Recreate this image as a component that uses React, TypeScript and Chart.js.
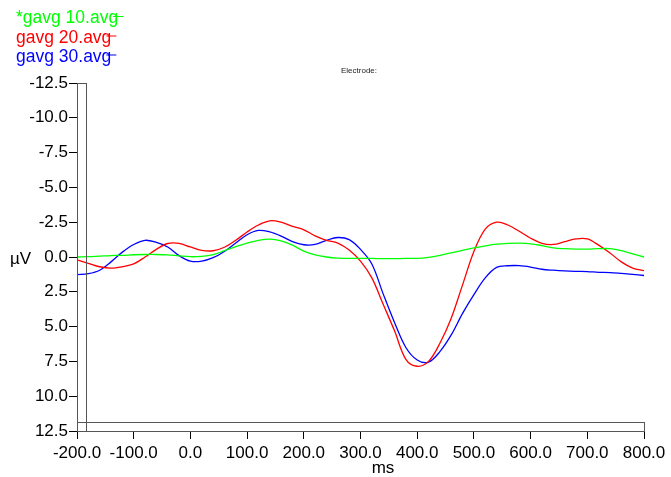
import { useEffect, useRef } from 'react';
import { Chart, registerables } from 'chart.js';

Chart.register(...registerables);

const FONT = '"Liberation Sans", Arial, sans-serif';

const times = [
  -200, -180, -160, -140, -120, -100, -80, -60, -40, -20,
  0, 20, 40, 60, 80, 100, 120, 140, 160, 180,
  200, 220, 240, 260, 280, 300, 320, 340, 360, 380,
  400, 420, 440, 460, 480, 500, 520, 540, 560, 580,
  600, 620, 640, 660, 680, 700, 720, 740, 760, 780, 800,
];

const gavg10 = [
  0.0, -0.02, -0.06, -0.1, -0.12, -0.16, -0.18, -0.18, -0.15, -0.08,
  -0.02, -0.05, -0.17, -0.45, -0.75, -1.0, -1.2, -1.28, -1.15, -0.85,
  -0.42, -0.15, 0.0, 0.08, 0.1, 0.1, 0.1, 0.12, 0.12, 0.1,
  0.1, 0.02, -0.12, -0.3, -0.48, -0.65, -0.8, -0.92, -0.98, -1.0,
  -0.95, -0.82, -0.66, -0.6, -0.57, -0.57, -0.6, -0.6, -0.45, -0.22, 0.0,
];

const gavg20 = [
  0.2, 0.45, 0.7, 0.8, 0.7, 0.5, 0.0, -0.55, -0.97, -0.98,
  -0.72, -0.48, -0.45, -0.7, -1.2, -1.8, -2.3, -2.6, -2.5, -2.2,
  -1.95, -1.52, -1.2, -1.0, -0.5, 0.3, 1.5, 3.4, 5.3, 7.35,
  7.85, 7.5, 6.2, 4.4, 2.0, -0.4, -2.0, -2.5, -2.3, -1.85,
  -1.35, -0.98, -0.9, -1.1, -1.3, -1.3, -0.85, -0.29, 0.35, 0.8, 0.98,
];

const gavg30 = [
  1.27, 1.2, 0.95, 0.35, -0.35, -0.9, -1.2, -1.05, -0.72, -0.1,
  0.3, 0.3, 0.05, -0.4, -1.0, -1.6, -1.91, -1.8, -1.5, -1.1,
  -0.88, -0.9, -1.2, -1.4, -1.25, -0.55, 0.5, 2.65, 4.7, 6.5,
  7.4, 7.55, 6.8, 5.6, 4.05, 2.7, 1.5, 0.75, 0.63, 0.62,
  0.72, 0.88, 0.95, 1.0, 1.03, 1.05, 1.1, 1.12, 1.18, 1.25, 1.33,
];

const seriesNames = ['*gavg 10.avg', 'gavg 20.avg', 'gavg 30.avg'];
const seriesColors = ['#00ff00', '#ff0000', '#0000ff'];
const seriesValues = [gavg10, gavg20, gavg30];

const xMin = -200;
const xMax = 800;
const xStep = 100;
const yMin = -12.5;
const yMax = 12.5;
const yStep = 2.5;

const overlay = {
  id: 'overlay',
  afterDatasetsDraw(chart: any) {
    const { ctx, chartArea } = chart;
    const { left, right, top, bottom } = chartArea;
    ctx.save();
    ctx.strokeStyle = '#555';
    ctx.lineWidth = 1;
    ctx.strokeRect(Math.round(left) + 0.5, Math.round(top) + 0.5, 9, Math.round(bottom - top));
    ctx.strokeRect(Math.round(left) + 0.5, Math.round(bottom) - 8.5, Math.round(right - left), 9);
    ctx.restore();
  },
  afterDraw(chart: any) {
    const { ctx } = chart;
    ctx.save();
    ctx.font = `17.5px ${FONT}`;
    ctx.textAlign = 'left';
    ctx.textBaseline = 'alphabetic';
    const baselines = [23, 42.5, 61.5];
    seriesNames.forEach((name, i) => {
      ctx.fillStyle = seriesColors[i];
      ctx.fillText(name, 16, baselines[i]);
      const w = ctx.measureText(name).width;
      ctx.strokeStyle = seriesColors[i];
      ctx.lineWidth = 1;
      ctx.beginPath();
      ctx.moveTo(16 + w - 5, baselines[i] - 6.5);
      ctx.lineTo(16 + w + 5, baselines[i] - 6.5);
      ctx.stroke();
    });
    ctx.fillStyle = '#222';
    ctx.font = `8px ${FONT}`;
    ctx.textAlign = 'center';
    ctx.textBaseline = 'middle';
    ctx.fillText('Electrode:', 359, 70.5);
    ctx.fillStyle = '#000';
    ctx.font = `17px ${FONT}`;
    ctx.textAlign = 'left';
    ctx.fillText('µV', 10, 259);
    ctx.textAlign = 'center';
    ctx.fillText('ms', 383, 468);
    ctx.restore();
  },
};

export default function App() {
  const ref = useRef<HTMLCanvasElement | null>(null);

  useEffect(() => {
    document.body.style.margin = '0';
    const canvas = ref.current;
    if (!canvas) return;
    const chart = new Chart(canvas, {
      type: 'line',
      data: {
        datasets: seriesValues.map((vals, i) => ({
          label: seriesNames[i],
          data: times.map((t, j) => ({ x: t, y: vals[j] })),
          borderColor: seriesColors[i],
          backgroundColor: seriesColors[i],
          borderWidth: 1.3,
          pointRadius: 0,
          tension: 0.35,
          fill: false,
        })),
      },
      options: {
        responsive: false,
        animation: false,
        events: [],
        layout: { padding: { left: 0, top: 83, right: 27, bottom: 0 } },
        plugins: {
          legend: { display: false },
          title: { display: false },
          tooltip: { enabled: false },
        },
        scales: {
          x: {
            type: 'linear',
            min: xMin,
            max: xMax,
            afterFit: (s: any) => { s.height = 46; },
            grid: { drawOnChartArea: false, drawTicks: true, tickLength: 8, color: '#000' },
            border: { display: true, color: '#000' },
            ticks: {
              stepSize: xStep,
              autoSkip: false,
              maxRotation: 0,
              padding: 4,
              color: '#000',
              font: { family: FONT, size: 17 },
              callback: (v: any) => Number(v).toFixed(1),
            },
          },
          y: {
            type: 'linear',
            min: yMin,
            max: yMax,
            reverse: true,
            afterFit: (s: any) => { s.width = 77; },
            grid: { drawOnChartArea: false, drawTicks: true, tickLength: 8, color: '#000' },
            border: { display: true, color: '#000' },
            ticks: {
              stepSize: yStep,
              autoSkip: false,
              padding: 1,
              color: '#000',
              font: { family: FONT, size: 17 },
              callback: (v: any) => Number(v).toFixed(1),
            },
          },
        },
      },
      plugins: [overlay],
    });
    return () => chart.destroy();
  }, []);

  return <canvas ref={ref} width={671} height={477} style={{ display: 'block' }} />;
}
